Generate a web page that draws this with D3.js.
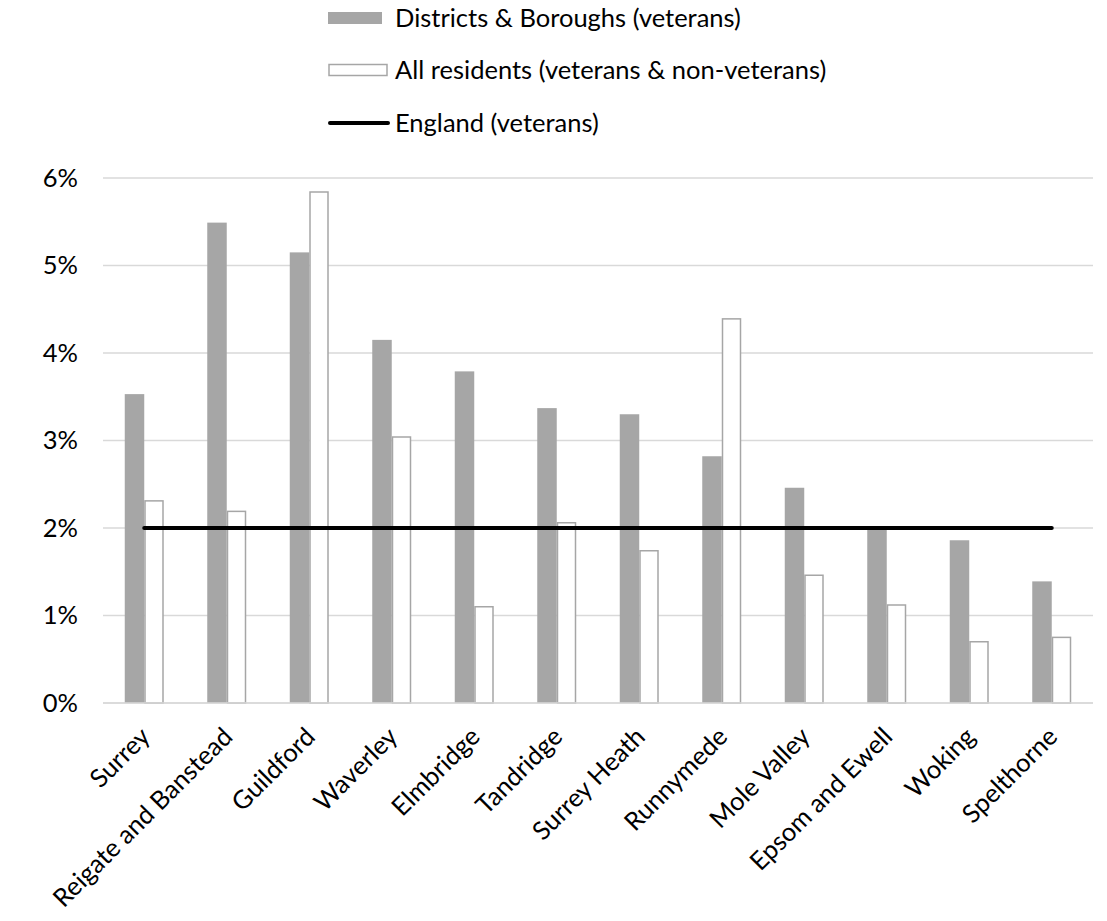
<!DOCTYPE html>
<html><head><meta charset="utf-8">
<script src="https://cdn.jsdelivr.net/npm/d3@7"></script>
<style>body{margin:0;background:#fff}svg{display:block}text{font-family:Lato,"Open Sans",sans-serif;fill:#000}</style>
</head><body>
<script>
const categories = ["Surrey","Reigate and Banstead","Guildford","Waverley","Elmbridge","Tandridge","Surrey Heath","Runnymede","Mole Valley","Epsom and Ewell","Woking","Spelthorne"];
const districtValues = [3.53,5.49,5.15,4.15,3.79,3.37,3.30,2.82,2.46,2.00,1.86,1.39];
const allResidentsValues = [2.31,2.19,5.84,3.04,1.10,2.06,1.74,4.39,1.46,1.12,0.70,0.75];
const englandValue = 2.0;
const yTicks = [0,1,2,3,4,5,6];
const legendLabels = ["Districts & Boroughs (veterans)","All residents (veterans & non-veterans)","England (veterans)"];

const W = 1107, H = 921, FS = 25.5;
const svg = d3.select("body").append("svg").attr("width",W).attr("height",H);
const x = d3.scaleBand().domain(categories).range([103,1093]).padding(0);
const y = d3.scaleLinear().domain([0,6]).range([703,178]);
const barW = 19.5;

svg.append("g").selectAll("line").data(yTicks).join("line")
  .attr("x1",103).attr("x2",1093).attr("y1",d=>y(d)).attr("y2",d=>y(d))
  .attr("stroke","#d9d9d9").attr("stroke-width",1.5);
svg.append("g").selectAll("text").data(yTicks).join("text")
  .attr("x",78).attr("y",d=>y(d)).attr("dy","0.35em").attr("text-anchor","end")
  .attr("font-size",FS).text(d=>d+"%");

const cx = d => x(d)+x.bandwidth()/2;
svg.append("g").selectAll("rect").data(categories).join("rect")
  .attr("x",d=>cx(d)-barW).attr("width",barW)
  .attr("y",(d,i)=>y(districtValues[i])).attr("height",(d,i)=>y(0)-y(districtValues[i]))
  .attr("fill","#a6a6a6");
svg.append("g").selectAll("rect").data(categories).join("rect")
  .attr("x",d=>cx(d)+0.75).attr("width",barW-1.5)
  .attr("y",(d,i)=>y(allResidentsValues[i])).attr("height",(d,i)=>y(0)-y(allResidentsValues[i]))
  .attr("fill","#fff").attr("stroke","#a6a6a6").attr("stroke-width",1.5);
svg.append("line").attr("x1",103).attr("x2",1093).attr("y1",y(0)).attr("y2",y(0))
  .attr("stroke","#d9d9d9").attr("stroke-width",1.5);
svg.append("line").attr("x1",cx(categories[0])).attr("x2",cx(categories[categories.length-1]))
  .attr("y1",y(englandValue)).attr("y2",y(englandValue))
  .attr("stroke","#000").attr("stroke-width",4).attr("stroke-linecap","round");

svg.append("g").selectAll("text").data(categories).join("text")
  .attr("transform",d=>`translate(${cx(d)+1},${732}) rotate(-45)`)
  .attr("text-anchor","end").attr("dy","0.35em").attr("font-size",FS).text(d=>d);

const lg = svg.append("g");
lg.append("rect").attr("x",328).attr("y",12).attr("width",54).attr("height",12).attr("fill","#a6a6a6");
lg.append("rect").attr("x",329).attr("y",64.5).attr("width",58).attr("height",11).attr("fill","#fff").attr("stroke","#a6a6a6").attr("stroke-width",1.5);
lg.append("line").attr("x1",330).attr("x2",388).attr("y1",123).attr("y2",123).attr("stroke","#000").attr("stroke-width",4).attr("stroke-linecap","round");
const ly = [18,70,123];
lg.selectAll("text").data(legendLabels).join("text")
  .attr("x",395).attr("y",(d,i)=>ly[i]).attr("dy","0.35em").attr("font-size",FS).text(d=>d);
</script>
</body></html>
